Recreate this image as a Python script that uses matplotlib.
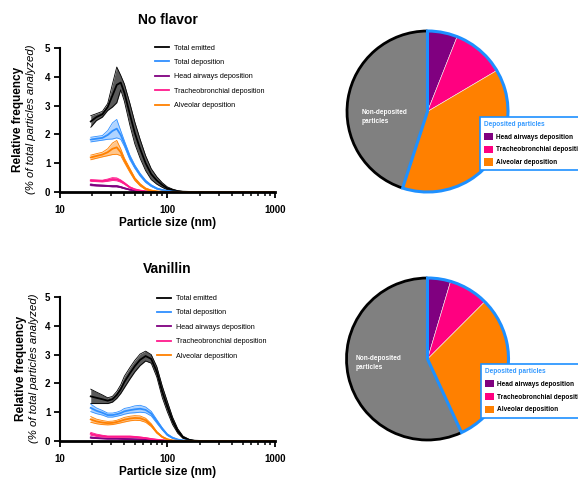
import numpy as np
import matplotlib
matplotlib.use("Agg")
import matplotlib.pyplot as plt
import matplotlib.patches as mpatches
from matplotlib.ticker import NullFormatter, LogLocator

plt.rcParams["font.family"] = ["Liberation Sans", "DejaVu Sans"]

# Particle size grid (nm) shared by all curves
SIZES = [19.5, 22, 25, 28, 31, 34, 37, 40, 45, 50, 56, 63, 71, 80, 90,
         100, 112, 125, 140, 160, 180, 200, 300, 500, 1000]

# --- No flavor ---
NF_EMIT = [2.45, 2.6, 2.7, 2.95, 3.35, 3.72, 3.8, 3.45, 2.7, 2.05, 1.5, 1.0, 0.62, 0.4, 0.24,
           0.13, 0.07, 0.03, 0.01, 0.003, 0, 0, 0, 0, 0]
NF_EMIT_SD = [0.2, 0.12, 0.1, 0.12, 0.4, 0.62, 0.25, 0.3, 0.38, 0.38, 0.33, 0.26, 0.19, 0.13, 0.08,
              0.05, 0.03, 0.015, 0.006, 0.002, 0, 0, 0, 0, 0]
NF_DEP = [1.82, 1.85, 1.88, 1.98, 2.12, 2.2, 1.98, 1.68, 1.2, 0.88, 0.6, 0.37, 0.22, 0.12, 0.07,
          0.04, 0.015, 0.005, 0.001, 0, 0, 0, 0, 0, 0]
NF_DEP_SD = [0.08, 0.08, 0.08, 0.15, 0.28, 0.32, 0.15, 0.1, 0.08, 0.06, 0.05, 0.04, 0.03, 0.02, 0.01,
             0.005, 0.003, 0.001, 0, 0, 0, 0, 0, 0, 0]
NF_HEAD = [0.25, 0.23, 0.22, 0.21, 0.2, 0.2, 0.17, 0.13, 0.08, 0.05, 0.03, 0.015, 0.007, 0.003, 0.001,
           0, 0, 0, 0, 0, 0, 0, 0, 0, 0]
NF_HEAD_SD = [0.03, 0.02, 0.02, 0.02, 0.02, 0.02, 0.02, 0.015, 0.01, 0.008, 0.005, 0.003, 0.002, 0.001, 0,
              0, 0, 0, 0, 0, 0, 0, 0, 0, 0]
NF_TB = [0.4, 0.39, 0.38, 0.41, 0.45, 0.44, 0.38, 0.3, 0.16, 0.09, 0.05, 0.02, 0.01, 0.004, 0.001,
         0, 0, 0, 0, 0, 0, 0, 0, 0, 0]
NF_TB_SD = [0.03, 0.03, 0.03, 0.04, 0.05, 0.05, 0.04, 0.03, 0.02, 0.015, 0.01, 0.005, 0.003, 0.001, 0,
            0, 0, 0, 0, 0, 0, 0, 0, 0, 0]
NF_ALV = [1.2, 1.25, 1.3, 1.38, 1.5, 1.55, 1.38, 1.1, 0.75, 0.45, 0.25, 0.11, 0.05, 0.02, 0.008,
          0.003, 0.001, 0, 0, 0, 0, 0, 0, 0, 0]
NF_ALV_SD = [0.08, 0.08, 0.08, 0.12, 0.2, 0.24, 0.12, 0.08, 0.07, 0.05, 0.04, 0.03, 0.015, 0.008, 0.004,
             0.002, 0.001, 0, 0, 0, 0, 0, 0, 0, 0]

# --- Vanillin ---
VA_EMIT = [1.55, 1.5, 1.45, 1.4, 1.45, 1.6, 1.8, 2.05, 2.35, 2.6, 2.82, 2.95, 2.85, 2.4, 1.7,
           1.2, 0.7, 0.35, 0.13, 0.04, 0.01, 0.003, 0, 0, 0]
VA_EMIT_SD = [0.25, 0.2, 0.15, 0.1, 0.1, 0.12, 0.15, 0.2, 0.2, 0.2, 0.2, 0.17, 0.15, 0.18, 0.2,
              0.18, 0.13, 0.08, 0.04, 0.015, 0.005, 0.002, 0, 0, 0]
VA_DEP = [1.15, 1.05, 0.98, 0.9, 0.9, 0.93, 0.97, 1.03, 1.07, 1.1, 1.12, 1.08, 0.95, 0.68, 0.42,
          0.22, 0.11, 0.05, 0.02, 0.005, 0.001, 0, 0, 0, 0]
VA_DEP_SD = [0.13, 0.1, 0.08, 0.07, 0.07, 0.07, 0.08, 0.1, 0.1, 0.12, 0.12, 0.1, 0.08, 0.06, 0.04,
             0.03, 0.02, 0.01, 0.005, 0, 0, 0, 0, 0, 0]
VA_HEAD = [0.12, 0.1, 0.09, 0.08, 0.08, 0.08, 0.075, 0.07, 0.065, 0.06, 0.055, 0.048, 0.038, 0.026, 0.016,
           0.009, 0.004, 0.002, 0, 0, 0, 0, 0, 0, 0]
VA_HEAD_SD = [0.02, 0.015, 0.01, 0.01, 0.01, 0.01, 0.01, 0.01, 0.01, 0.008, 0.008, 0.006, 0.005, 0.004, 0.003,
              0.002, 0.001, 0, 0, 0, 0, 0, 0, 0, 0]
VA_TB = [0.25, 0.2, 0.17, 0.15, 0.15, 0.15, 0.15, 0.15, 0.15, 0.14, 0.12, 0.1, 0.07, 0.045, 0.025,
         0.012, 0.005, 0.002, 0, 0, 0, 0, 0, 0, 0]
VA_TB_SD = [0.05, 0.04, 0.03, 0.02, 0.02, 0.02, 0.02, 0.02, 0.02, 0.02, 0.02, 0.015, 0.01, 0.008, 0.005,
            0.003, 0.001, 0, 0, 0, 0, 0, 0, 0, 0]
VA_ALV = [0.75, 0.68, 0.64, 0.62, 0.63, 0.66, 0.7, 0.74, 0.78, 0.8, 0.79, 0.72, 0.55, 0.3, 0.14,
          0.06, 0.02, 0.007, 0.002, 0, 0, 0, 0, 0, 0]
VA_ALV_SD = [0.1, 0.08, 0.07, 0.06, 0.06, 0.06, 0.07, 0.08, 0.08, 0.08, 0.08, 0.07, 0.05, 0.03, 0.02,
             0.01, 0.005, 0.002, 0, 0, 0, 0, 0, 0, 0]

# Pie shares (%): head, tracheobronchial, alveolar, non-deposited
NF_PIE = [6.0, 10.5, 38.5, 45.0]
VA_PIE = [4.6, 7.9, 30.6, 56.9]

SERIES_LABELS = ["Total emitted", "Total deposition", "Head airways deposition",
                 "Tracheobronchial deposition", "Alveolar deposition"]
PIE_LABELS = ["Head airways deposition", "Tracheobronchial deposition", "Alveolar deposition"]

# colours: (line, band fill)
STYLES = [("#000000", "#5a5a5a"), ("#2f8fff", "#a8d0ff"), ("#800080", "#c080c0"),
          ("#ff1a8c", "#ff9ccc"), ("#ff8000", "#ffc080")]
PIE_COLORS = ["#800080", "#ff0080", "#ff8000", "#808080"]
OUTLINE_BLUE = "#1e90ff"

W, H = 578, 479


def px_axes(fig, left, top, right, bottom):
    return fig.add_axes([left / W, 1 - bottom / H, (right - left) / W, (bottom - top) / H])


def line_panel(fig, top, bottom, title, curves, leg_xy, ylab_x):
    ax = px_axes(fig, 59.5, top, 275, bottom)
    x = np.array(SIZES)
    for (m, sd), (lc, fc), lab in zip(curves, STYLES, SERIES_LABELS):
        m = np.array(m)
        sd = np.array(sd)
        lo = np.clip(m - sd, 0, None)
        hi = m + sd
        ax.fill_between(x, lo, hi, color=fc, lw=0, alpha=0.9 if lc != "#000000" else 1)
        ax.plot(x, lo, color=lc, lw=0.6)
        ax.plot(x, hi, color=lc, lw=0.6)
        ax.plot(x, m, color=lc, lw=1.3, label=lab)
    ax.set_xscale("log")
    ax.set_xlim(10, 1000)
    ax.set_ylim(0, 5)
    ax.set_xticks([10, 100, 1000], ["10", "100", "1000"])
    ax.xaxis.set_minor_locator(LogLocator(base=10, subs=np.arange(2, 10)))
    ax.xaxis.set_minor_formatter(NullFormatter())
    ax.set_yticks([0, 1, 2, 3, 4, 5])
    for s in ["top", "right"]:
        ax.spines[s].set_visible(False)
    ax.spines["left"].set_linewidth(1.5)
    ax.spines["bottom"].set_linewidth(2.0)
    ax.tick_params(axis="both", which="major", direction="out", length=4, width=1.3,
                   labelsize=7)
    ax.tick_params(axis="x", which="major", pad=5.5)
    ax.tick_params(axis="y", which="major", pad=2.5)
    ax.tick_params(axis="x", which="minor", direction="out", length=3, width=1.1)
    for t in ax.get_xticklabels() + ax.get_yticklabels():
        t.set_fontweight("bold")

    cy = (top + bottom) / 2 - 1
    fig.text(167.5 / W, 1 - (top - 28) / H, title, ha="center", va="center",
             fontsize=10, fontweight="bold")
    fig.text(167.5 / W, 1 - (bottom + 31) / H, "Particle size (nm)", ha="center",
             va="center", fontsize=8.5, fontweight="bold")
    fig.text(ylab_x[0] / W, 1 - cy / H, "Relative frequency", rotation=90,
             ha="center", va="center", fontsize=8.5, fontweight="bold")
    fig.text(ylab_x[1] / W, 1 - cy / H, "(% of total particles analyzed)", rotation=90,
             ha="center", va="center", fontsize=8.2, fontstyle="italic")

    ax.legend(loc="upper left", bbox_to_anchor=(leg_xy[0] / W, 1 - leg_xy[1] / H),
              bbox_transform=fig.transFigure, frameon=False, fontsize=5.2,
              handlelength=2.0, handletextpad=0.7, labelspacing=1.02,
              borderpad=0, borderaxespad=0)
    return ax


def pie_panel(fig, cx, cy, r, shares, txt_xy, leg_xy):
    ax = px_axes(fig, cx - r, cy - r, cx + r, cy + r)
    wedges, _ = ax.pie(shares, colors=PIE_COLORS, startangle=90, counterclock=False,
                       wedgeprops=dict(linewidth=0.4, edgecolor="#f0f0f0"))
    nd = wedges[3]
    ax.add_patch(mpatches.Arc((0, 0), 2, 2, theta1=nd.theta1, theta2=nd.theta2,
                              color="black", lw=2.0, clip_on=False))
    t1 = min(w.theta1 for w in wedges[:3])
    t2 = max(w.theta2 for w in wedges[:3])
    ax.add_patch(mpatches.Wedge((0, 0), 1, t1, t2, fill=False,
                                edgecolor=OUTLINE_BLUE, lw=2.2, clip_on=False))
    ax.set_xlim(-1, 1)
    ax.set_ylim(-1, 1)
    ax.set_aspect("equal")
    ax.axis("off")
    ax.text((txt_xy[0] - cx) / r, (cy - txt_xy[1]) / r, "Non-deposited\nparticles",
            ha="left", va="center", color="white", fontsize=4.7, fontweight="bold",
            linespacing=1.25)

    handles = [mpatches.Patch(facecolor=c, edgecolor="none") for c in PIE_COLORS[:3]]
    leg = fig.legend(handles, PIE_LABELS, loc="upper left",
                     bbox_to_anchor=(leg_xy[0] / W, 1 - leg_xy[1] / H),
                     bbox_transform=fig.transFigure, title="Deposited particles",
                     alignment="left", prop={"weight": "bold", "size": 4.7},
                     title_fontproperties={"weight": "bold", "size": 4.7},
                     frameon=True, fancybox=False, edgecolor=OUTLINE_BLUE, framealpha=1,
                     handlelength=1.35, handleheight=1.35, labelspacing=0.75,
                     handletextpad=0.45, borderpad=0.65, borderaxespad=0)
    leg.get_title().set_color("#3399ff")
    leg.get_frame().set_linewidth(1.2)
    return ax


fig = plt.figure(figsize=(W / 100, H / 100), dpi=100)

nf_curves = [(NF_EMIT, NF_EMIT_SD), (NF_DEP, NF_DEP_SD), (NF_HEAD, NF_HEAD_SD),
             (NF_TB, NF_TB_SD), (NF_ALV, NF_ALV_SD)]
va_curves = [(VA_EMIT, VA_EMIT_SD), (VA_DEP, VA_DEP_SD), (VA_HEAD, VA_HEAD_SD),
             (VA_TB, VA_TB_SD), (VA_ALV, VA_ALV_SD)]

line_panel(fig, 48, 192, "No flavor", nf_curves, (155, 44.5), (18, 31))
line_panel(fig, 297, 441, "Vanillin", va_curves, (157, 295), (21, 34))

pie_panel(fig, 427.5, 111.5, 80.5, NF_PIE, (362, 117), (480, 116.7))
pie_panel(fig, 427.5, 359, 81, VA_PIE, (356, 363), (481, 364))

fig.savefig("out.png", dpi=100)
